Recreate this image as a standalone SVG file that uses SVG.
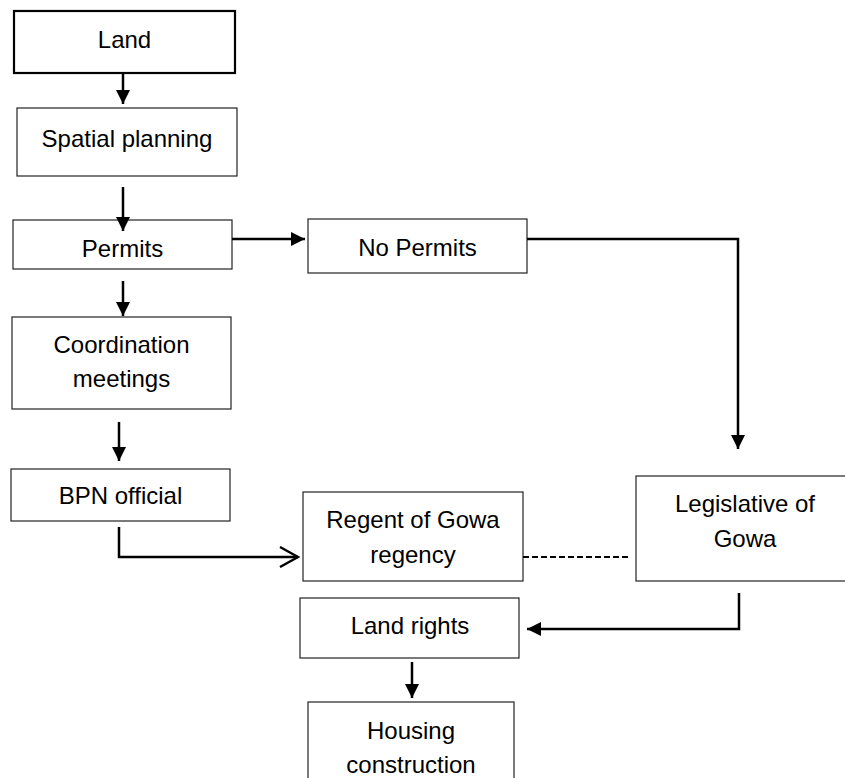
<svg xmlns="http://www.w3.org/2000/svg" width="845" height="778" viewBox="0 0 845 778">
<defs>
<style>
.box{fill:#fff;stroke:#222;stroke-width:1.2}
.thick{stroke:#000;stroke-width:2.2}
.t{font-family:"Liberation Sans",Arial,sans-serif;font-size:24px;fill:#000;text-anchor:middle}
.c{fill:none;stroke:#000;stroke-width:2.5}
.d{fill:none;stroke:#000;stroke-width:2.2;stroke-dasharray:6 3}
</style>
<marker id="ah" viewBox="0 0 14 14" refX="14" refY="7" markerWidth="14" markerHeight="14" markerUnits="userSpaceOnUse" orient="auto">
<path d="M0,0 L14,7 L0,14 Z" fill="#000"/>
</marker>
<marker id="oh" viewBox="0 0 22 22" refX="20" refY="11" markerWidth="22" markerHeight="22" markerUnits="userSpaceOnUse" orient="auto">
<path d="M2,1 L20,11 L2,21" fill="none" stroke="#000" stroke-width="2.4"/>
</marker>
</defs>
<rect width="845" height="778" fill="#fff"/>
<g id="land">
<rect class="box thick" x="14" y="11" width="221" height="62"/>
<text class="t" x="124.5" y="48">Land</text>
</g>
<g id="spatial-planning">
<rect class="box" x="17" y="108" width="220" height="68"/>
<text class="t" x="127" y="147">Spatial planning</text>
</g>
<g id="permits">
<rect class="box" x="13" y="220" width="219" height="49"/>
<text class="t" x="122.5" y="257">Permits</text>
</g>
<g id="no-permits">
<rect class="box" x="308" y="219" width="219" height="54"/>
<text class="t" x="417.5" y="256">No Permits</text>
</g>
<g id="coordination-meetings">
<rect class="box" x="12" y="317" width="219" height="92"/>
<text class="t" x="121.5" y="353">Coordination</text>
<text class="t" x="121.5" y="387">meetings</text>
</g>
<g id="bpn-official">
<rect class="box" x="11" y="469" width="219" height="52"/>
<text class="t" x="120.5" y="504">BPN official</text>
</g>
<g id="regent">
<rect class="box" x="303" y="492" width="220" height="89"/>
<text class="t" x="413" y="528">Regent of Gowa</text>
<text class="t" x="413" y="563">regency</text>
</g>
<g id="legislative">
<rect class="box" x="636" y="476" width="220" height="105"/>
<text class="t" x="745" y="512">Legislative of</text>
<text class="t" x="745" y="547">Gowa</text>
</g>
<g id="land-rights">
<rect class="box" x="300" y="598" width="219" height="60"/>
<text class="t" x="410" y="634">Land rights</text>
</g>
<g id="housing-construction">
<rect class="box" x="308" y="702" width="206" height="90"/>
<text class="t" x="411" y="739">Housing</text>
<text class="t" x="411" y="773">construction</text>
</g>
<g id="connectors">
<line class="c" x1="123" y1="73" x2="123" y2="104" marker-end="url(#ah)"/>
<line class="c" x1="123" y1="187" x2="123" y2="231" marker-end="url(#ah)"/>
<line class="c" x1="232" y1="239" x2="305" y2="239" marker-end="url(#ah)"/>
<line class="c" x1="123" y1="281" x2="123" y2="316" marker-end="url(#ah)"/>
<line class="c" x1="119" y1="422" x2="119" y2="461" marker-end="url(#ah)"/>
<polyline class="c" points="527,239 738,239 738,449" marker-end="url(#ah)"/>
<polyline class="c" points="119,527 119,557 298,557" marker-end="url(#oh)"/>
<line class="d" x1="523" y1="557" x2="630" y2="557"/>
<polyline class="c" points="739,593 739,629 527,629" marker-end="url(#ah)"/>
<line class="c" x1="412" y1="662" x2="412" y2="698" marker-end="url(#ah)"/>
</g>
</svg>
